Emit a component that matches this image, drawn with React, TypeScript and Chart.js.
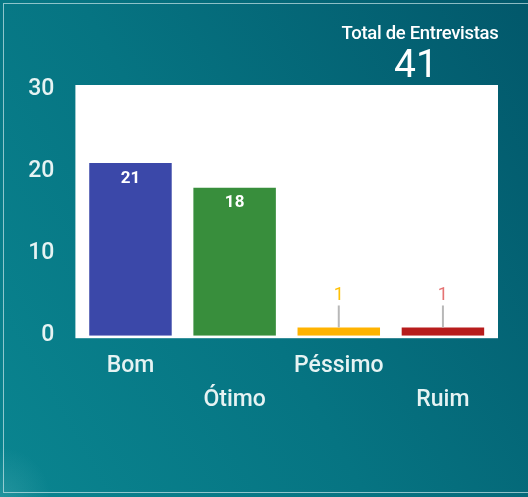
import React, { useEffect, useRef } from "react";
import { Chart, registerables } from "chart.js";

Chart.register(...registerables);

const categories = ["Bom", "Ótimo", "Péssimo", "Ruim"];
const values = [21, 18, 1, 1];
const barColors = ["#3B48A9", "#388E3C", "#FFB300", "#B71C1C"];
const labelColors = ["#FFFFFF", "#FFFFFF", "#FFC107", "#E57373"];
const yTicks = [0, 10, 20, 30];
const totalTitle = "Total de Entrevistas";
const totalValue = 41;

const plotBg = {
  id: "plotBg",
  beforeDraw(chart: any) {
    const { ctx, chartArea } = chart;
    ctx.save();
    ctx.fillStyle = "#ffffff";
    ctx.fillRect(chartArea.left - 3, chartArea.top - 4, chartArea.right - chartArea.left + 6, chartArea.bottom - chartArea.top + 6.5);
    ctx.restore();
  },
};

const barLabels = {
  id: "barLabels",
  afterDatasetsDraw(chart: any) {
    const { ctx } = chart;
    const meta = chart.getDatasetMeta(0);
    ctx.save();
    ctx.textAlign = "center";
    ctx.textBaseline = "middle";
    meta.data.forEach((bar: any, i: number) => {
      const v = values[i];
      const h = bar.base - bar.y;
      if (h > 30) {
        ctx.fillStyle = "#ffffff";
        ctx.font = "bold 17px Roboto";
        ctx.fillText(String(v), bar.x, bar.y + 15.5);
      } else {
        ctx.strokeStyle = "#b8b8b8";
        ctx.lineWidth = 2;
        ctx.beginPath();
        ctx.moveTo(bar.x, bar.y);
        ctx.lineTo(bar.x, bar.y - 22);
        ctx.stroke();
        ctx.fillStyle = labelColors[i];
        ctx.font = "18px Roboto";
        ctx.fillText(String(v), bar.x, bar.y - 32);
      }
    });
    ctx.restore();
  },
};

export default function App() {
  const ref = useRef<HTMLCanvasElement>(null);
  useEffect(() => {
    document.body.style.margin = "0";
    const chart = new Chart(ref.current!, {
      type: "bar",
      data: {
        labels: categories,
        datasets: [
          {
            data: values,
            backgroundColor: barColors,
            borderWidth: 0,
            barPercentage: 0.88,
            categoryPercentage: 0.9,
          },
        ],
      },
      options: {
        responsive: false,
        animation: false,
        layout: { padding: { top: 89, right: 33, left: 0, bottom: 0 } },
        plugins: { legend: { display: false }, tooltip: { enabled: false } },
        scales: {
          x: {
            grid: { display: false, drawTicks: false },
            border: { display: false },
            afterFit: (s: any) => {
              s.height = 161.3;
            },
            ticks: {
              color: "#e6f3f3",
              font: { family: "Roboto", size: 23, weight: "500", lineHeight: 1.5 },
              padding: 13,
              maxRotation: 0,
              autoSkip: false,
              callback: (_v: any, i: number) => (i % 2 === 0 ? [categories[i], ""] : ["", categories[i]]),
            },
          },
          y: {
            min: 0,
            max: 30,
            grid: { display: false, drawTicks: false },
            border: { display: false },
            afterFit: (s: any) => {
              s.width = 78.4;
            },
            afterBuildTicks: (s: any) => {
              s.ticks = yTicks.map((v) => ({ value: v }));
            },
            ticks: {
              color: "#e6f3f3",
              font: { family: "Roboto", size: 23, weight: "500" },
              padding: 24,
            },
          },
        },
      },
      plugins: [plotBg, barLabels],
    });
    return () => chart.destroy();
  }, []);

  return (
    <div
      style={{
        position: "fixed",
        left: 0,
        top: 0,
        width: 528,
        height: 497,
        overflow: "hidden",
        background:
          "radial-gradient(circle at 0% 100%, rgba(120,200,205,0.22) 0px, rgba(120,200,205,0) 50px), linear-gradient(60deg, #0a8590 0%, #067482 45%, #02586b 100%)",
        fontFamily: "Roboto",
      }}
    >
      <div
        style={{
          position: "absolute",
          left: 3,
          top: 3,
          width: 540,
          height: 490,
          border: "1.5px solid rgba(200,230,232,0.7)",
          boxSizing: "border-box",
        }}
      />
      <canvas ref={ref} width={528} height={497} style={{ position: "absolute", left: 0, top: 0 }} />
      <div
        style={{
          position: "absolute",
          left: 320,
          width: 200,
          top: 22,
          textAlign: "center",
          color: "#ffffff",
          fontSize: 18.5,
          fontWeight: 500,
          letterSpacing: -0.3,
          lineHeight: "22px",
        }}
      >
        {totalTitle}
      </div>
      <div
        style={{
          position: "absolute",
          left: 316,
          width: 200,
          top: 42,
          textAlign: "center",
          color: "#ffffff",
          fontSize: 39,
          lineHeight: "44px",
        }}
      >
        {totalValue}
      </div>
    </div>
  );
}
